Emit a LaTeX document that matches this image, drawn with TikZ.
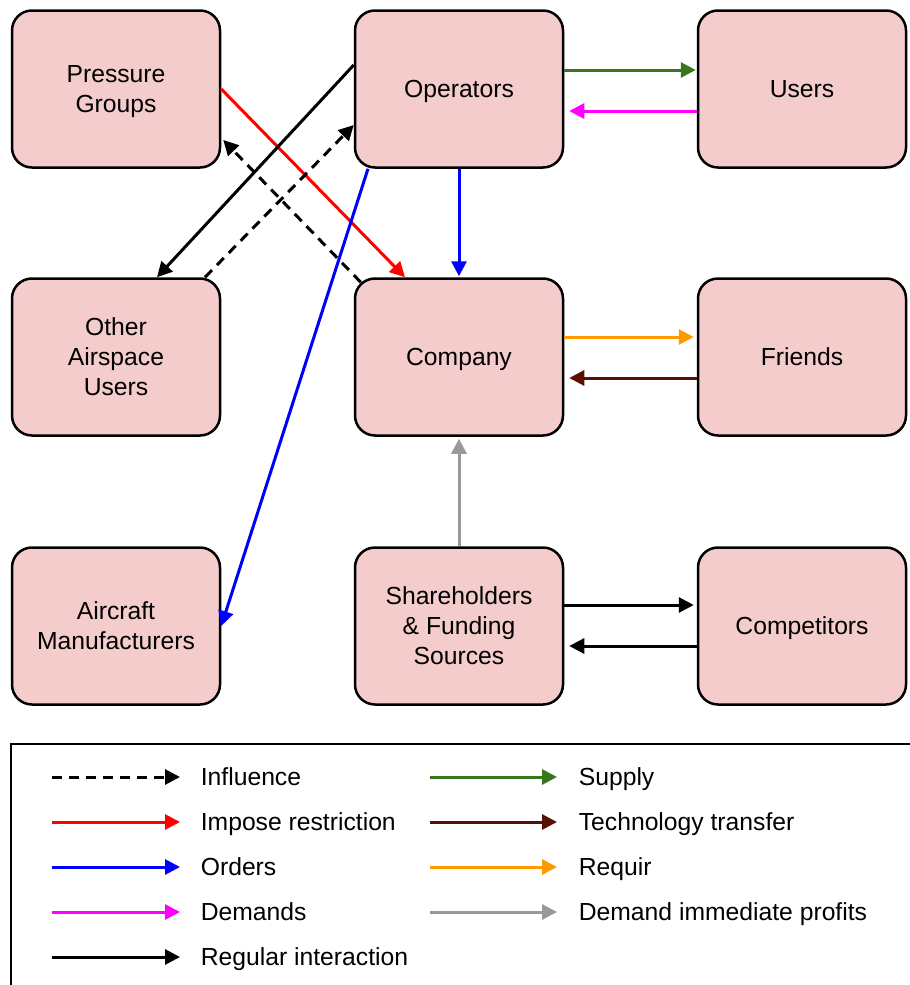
\documentclass[tikz,border=0pt]{standalone}
\usepackage{fontspec}
\setmainfont{Liberation Sans}
\usepackage{xcolor}
\usepackage{tikz}
\usetikzlibrary{positioning, arrows.meta, calc}

\definecolor{boxpink}{HTML}{F4CCCC}
\definecolor{supplygreen}{HTML}{38761D}
\definecolor{techbrown}{HTML}{5B0F00}
\definecolor{requirorange}{HTML}{FF9900}
\definecolor{profitgray}{HTML}{999999}
\definecolor{demandmagenta}{HTML}{FF00FF}

\begin{document}
\begin{tikzpicture}[
    x=1pt, y=-1pt,
    line width=3pt,
    >={Triangle[length=15pt, width=15pt]},
    stakeholder/.style={draw, line width=2.5pt, rectangle, rounded corners=20pt, minimum width=208pt, minimum height=157pt, align=center, fill=boxpink, text depth=-2pt, font=\fontsize{24.7}{30}\selectfont},
    influence/.style={->, black, dash pattern=on 10pt off 7pt},
    restriction/.style={->, red},
    orders/.style={->, blue},
    demands/.style={->, demandmagenta},
    regular/.style={->, black},
    supply/.style={->, supplygreen},
    techtransfer/.style={->, techbrown},
    requir/.style={->, requirorange},
    profits/.style={->, profitgray},
    legendtext/.style={anchor=west, text depth=0pt, font=\fontsize{24.7}{30}\selectfont}
]
    \useasboundingbox (0,0) rectangle (910,985);

    % Stakeholders
    \node[stakeholder] (pg) at (116, 89) {Pressure\\Groups};
    \node[stakeholder] (ops) at (459, 89) {Operators};
    \node[stakeholder] (users) at (802, 89) {Users};
    \node[stakeholder] (oau) at (116, 357) {Other\\Airspace\\Users};
    \node[stakeholder] (comp) at (459, 357) {Company};
    \node[stakeholder] (friends) at (802, 357) {Friends};
    \node[stakeholder] (am) at (116, 626) {Aircraft\\Manufacturers};
    \node[stakeholder] (sh) at (459, 626) {Shareholders\\\& Funding\\Sources};
    \node[stakeholder] (competitors) at (802, 626) {Competitors};

    % Connections
    \draw[supply, shorten >=1pt] ([yshift=19pt]ops.east) -- ([yshift=19pt]users.west);
    \draw[demands, shorten >=5pt] ([yshift=-22pt]users.west) -- ([yshift=-22pt]ops.east);
    \draw[orders, shorten >=1pt] (ops.south) -- (comp.north);
    \draw[requir, shorten >=3pt] ([yshift=20pt]comp.east) -- ([yshift=20pt]friends.west);
    \draw[techtransfer, shorten >=5pt] ([yshift=-21pt]friends.west) -- ([yshift=-21pt]comp.east);
    \draw[profits, shorten >=2pt] (sh.north) -- (comp.south);
    \draw[regular, shorten >=3pt] ([yshift=21pt]sh.east) -- ([yshift=21pt]competitors.west);
    \draw[regular, shorten >=5pt] ([yshift=-20pt]competitors.west) -- ([yshift=-20pt]sh.east);
    \draw[restriction] (pg.east) -- ([xshift=-54pt]comp.north);
    \draw[influence] ([shift={(7pt,-5pt)}]comp.north west) -- ([shift={(2pt,-51pt)}]pg.east);
    \draw[regular] ([yshift=24pt]ops.west) -- ([xshift=41pt]oau.north);
    \draw[influence] ([xshift=89pt]oau.north) -- ([yshift=-36pt]ops.west);
    \draw[orders] ([xshift=-91pt]ops.south) -- (am.east);

    % Legend
    \draw[line width=1.5pt] (930, 995) -- (11, 995) -- (11, 744) -- (930, 744);
    \foreach \style/\label/\row [count=\i] in {influence/Influence/777, restriction/Impose restriction/822, orders/Orders/867, demands/Demands/912, regular/Regular interaction/957} {
        \coordinate (la\i) at (52, \row);
        \coordinate (lb\i) at (180, \row);
        \draw[\style] (la\i) -- (lb\i);
        \node[legendtext] (lt\i) at (196, \row) {\label};
    }
    \foreach \style/\label/\row [count=\i] in {supply/Supply/777, techtransfer/Technology transfer/822, requir/Requir/867, profits/Demand immediate profits/912} {
        \coordinate (ra\i) at (430, \row);
        \coordinate (rb\i) at (557, \row);
        \draw[\style] (ra\i) -- (rb\i);
        \node[legendtext] (rt\i) at (574, \row) {\label};
    }
\end{tikzpicture}
\end{document}
